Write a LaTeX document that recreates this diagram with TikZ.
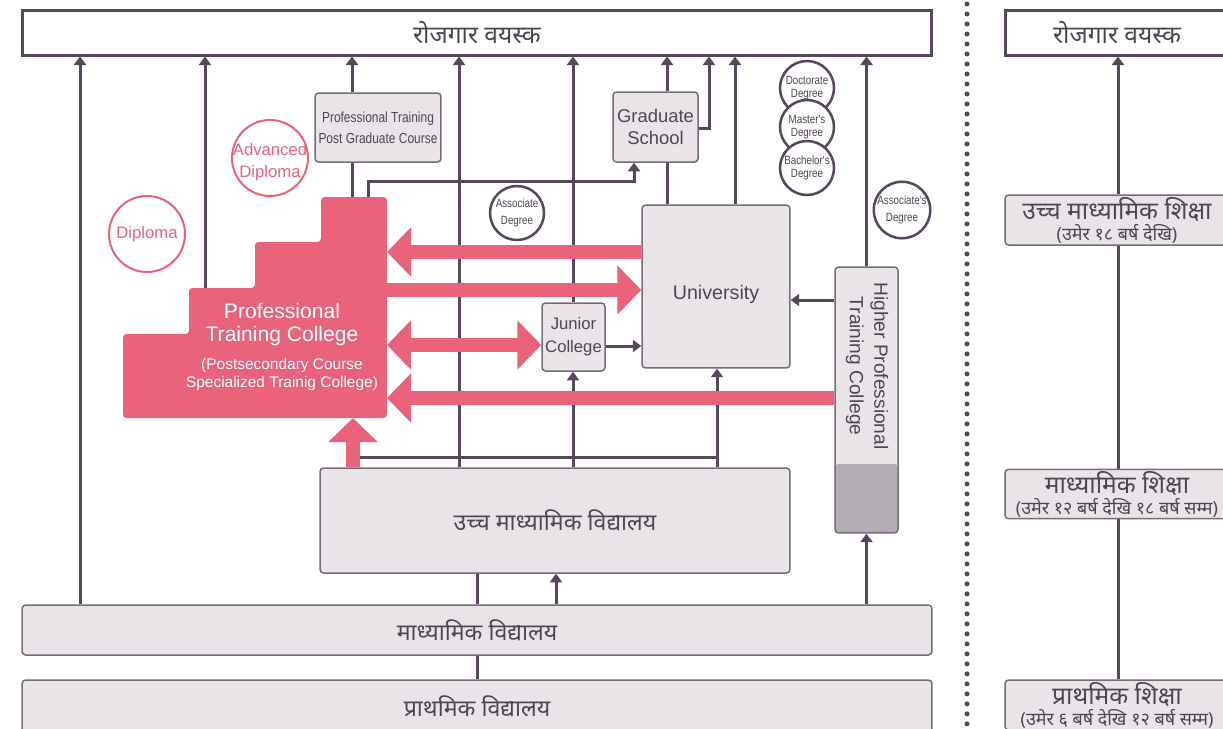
\documentclass[tikz,border=0pt]{standalone}
\usepackage{fontspec}
\setmainfont{Liberation Sans}
\newfontfamily\devafont[Script=Devanagari]{Noto Sans}
\newfontfamily\narrowfont[FakeStretch=0.82]{Liberation Sans}
\usetikzlibrary{arrows.meta}
\definecolor{line-purple}{HTML}{56475B}
\definecolor{box-fill}{HTML}{E8E4E8}
\definecolor{box-border}{HTML}{756C78}
\definecolor{label-gray}{HTML}{4E4552}
\definecolor{ptc-pink}{HTML}{E9637C}
\definecolor{hptc-dark}{HTML}{B5ADB5}
\tikzset{
    job-box/.style = {draw=line-purple, fill=white, line width=0.06cm, rectangle, minimum height=0.9cm, text=label-gray, font=\devafont\fontsize{14}{16}\selectfont},
    gray-box/.style = {draw=box-border, fill=box-fill, line width=0.03cm, rectangle, rounded corners=2pt, text=label-gray, align=center},
    deva-label/.style = {font=\devafont\fontsize{13.2}{15}\selectfont},
    degree-circle/.style = {draw=line-purple, fill=white, circle, line width=0.05cm, minimum size=1.08cm, inner sep=0pt, align=center, text=label-gray, font=\narrowfont\fontsize{6.8}{7.6}\selectfont},
    pink-circle/.style = {draw=ptc-pink, fill=white, circle, line width=0.04cm, minimum size=1.52cm, inner sep=0pt, align=center, text=ptc-pink, font=\fontsize{9.5}{12.5}\selectfont},
    link/.style = {draw=line-purple, line width=0.06cm},
    link-arrow/.style = {link, -{Triangle[width=0.24cm,length=0.17cm]}},
    pink-arrow/.style = {draw=ptc-pink, line width=0.28cm, -{Triangle[width=0.96cm,length=0.48cm]}},
    pink-both/.style = {draw=ptc-pink, line width=0.28cm, {Triangle[width=0.96cm,length=0.48cm]}-{Triangle[width=0.96cm,length=0.48cm]}},
}
\begin{document}
\begin{tikzpicture}[x=0.02cm, y=-0.02cm]
\useasboundingbox (0,0) rectangle (1223,728);
\clip (0,0) rectangle (1223,728);

% left side boxes
\node[job-box, minimum width=18.2cm] (job) at (477,32.5) {रोजगार वयस्क};
\node[gray-box, deva-label, minimum width=18.2cm, minimum height=1.04cm] (prim) at (477,706) {प्राथमिक विद्यालय};
\node[gray-box, deva-label, minimum width=18.2cm, minimum height=1cm] (sec) at (477,630) {माध्यामिक विद्यालय};
\node[gray-box, deva-label, minimum width=9.4cm, minimum height=2.1cm] (hsec) at (555,520.5) {उच्च माध्यामिक विद्यालय};
\node[gray-box, minimum width=2.96cm, minimum height=3.26cm, font=\fontsize{11.2}{13}\selectfont] (univ) at (716,286.5) {\raisebox{-0.25cm}[0pt][0pt]{University}};
\node[gray-box, minimum width=1.26cm, minimum height=1.36cm, inner sep=1pt, font=\fontsize{9.5}{13}\selectfont] (junior) at (573.5,337) {Junior\\College};
\node[gray-box, minimum width=1.7cm, minimum height=1.4cm, inner sep=1pt, font=\fontsize{10.5}{12.5}\selectfont] (grad) at (655.5,127) {Graduate\\School};
\node[gray-box, minimum width=2.52cm, minimum height=1.38cm, inner sep=1pt, font=\narrowfont\fontsize{8.3}{12}\selectfont] (ptpg) at (378,127.5) {Professional Training\\Post Graduate Course};
\node[gray-box, minimum width=1.26cm, minimum height=5.32cm, path picture={\fill[hptc-dark] (path picture bounding box.south west) rectangle ([yshift=1.38cm]path picture bounding box.south east);}] (hptc) at (866.5,400) {};
\node[rotate=-90, align=center, text=label-gray, font=\fontsize{10.9}{14}\selectfont] at (867,366) {Higher Professional\\Training College};

% right side
\node[job-box, minimum width=4.48cm] (job-r) at (1117,32.5) {रोजगार वयस्क};
\node[gray-box, minimum width=4.48cm, minimum height=1cm, inner sep=1pt] (hs-r) at (1117,220) {\devafont\fontsize{14}{12}\selectfont उच्च माध्यामिक शिक्षा\\\devafont\fontsize{10.2}{12}\selectfont (उमेर १८ बर्ष देखि)};
\node[gray-box, minimum width=4.48cm, minimum height=0.96cm, inner sep=1pt] (sec-r) at (1117,494) {\devafont\fontsize{14}{12}\selectfont माध्यामिक शिक्षा\\\devafont\fontsize{10.2}{12}\selectfont (उमेर १२ बर्ष देखि १८ बर्ष सम्म)};
\node[gray-box, minimum width=4.48cm, minimum height=1cm, inner sep=1pt] (prim-r) at (1117,705) {\devafont\fontsize{14}{12}\selectfont प्राथमिक शिक्षा\\\devafont\fontsize{10.2}{12}\selectfont (उमेर ६ बर्ष देखि १२ बर्ष सम्म)};
\draw[link-arrow] (hs-r.north -| 1118,0) -- (job-r.south -| 1118,0);
\draw[link] (sec-r.north -| 1118,0) -- (hs-r.south -| 1118,0);
\draw[link] (prim-r.north -| 1118,0) -- (sec-r.south -| 1118,0);

% dotted separator
\draw[line-purple, line width=0.1cm, line cap=round, dash pattern=on 0pt off 0.2cm] (967,4) -- (967,728);

% coordinates on the training college
\coordinate (ptc-east) at (387,0);
\coordinate (ptc-top) at (0,197);
\coordinate (ptc-step) at (205,288);
\coordinate (bus-l) at (360,457);
\coordinate (bus-r) at (717,457);

% dark connectors
\draw[link-arrow] (sec.north -| 80,0) -- (job.south -| 80,0);
\draw[link-arrow] (ptc-step) -- (job.south -| ptc-step);
\draw[link-arrow] (ptpg.north -| 352,0) -- (job.south -| 352,0);
\draw[link] (ptc-top -| 352,0) -- (ptpg.south -| 352,0);
\draw[link-arrow] (ptc-top -| 368,0) -- (368,181) -| (grad.south -| 634,0);
\draw[link-arrow] (hsec.north -| 459,0) -- (job.south -| 459,0);
\draw[link-arrow] (junior.north -| 573,0) -- (job.south -| 573,0);
\draw[link-arrow] (hsec.north -| 573,0) -- (junior.south -| 573,0);
\draw[link-arrow] (grad.north -| 667,0) -- (job.south -| 667,0);
\draw[link] (univ.north -| 667,0) -- (grad.south -| 667,0);
\draw[link-arrow] (grad.east |- 0,128) -| (job.south -| 709,0);
\draw[link-arrow] (univ.north -| 735,0) -- (job.south -| 735,0);
\draw[link-arrow] (hptc.north) -- (job.south -| hptc.north);
\draw[link-arrow] (junior.east |- 0,346) -- (univ.west |- 0,346);
\draw[link-arrow] (hptc.west |- 0,300) -- (univ.east |- 0,300);
\draw[link-arrow] (hsec.north -| bus-r) -- (univ.south -| bus-r);
\draw[link] (bus-l) -- (bus-r);
\draw[link] (sec.north -| 477,0) -- (hsec.south -| 477,0);
\draw[link-arrow] (sec.north -| 556,0) -- (hsec.south -| 556,0);
\draw[link-arrow] (sec.north -| hptc.south) -- (hptc.south);
\draw[link] (prim.north -| 477,0) -- (sec.south -| 477,0);

% professional training college
\fill[ptc-pink, rounded corners=2pt] (123,418) -- (123,334) -- (189,334) -- (189,288) -- (255,288) -- (255,242) -- (321,242) -- (321,197) -- (387,197) -- (387,418) -- cycle;
\node[align=center, text=white, font=\fontsize{12}{13}\selectfont] (ptc) at (282,347) {Professional\\Training College\\[3.4pt]\fontsize{8.8}{10.2}\selectfont (Postsecondary Course\\[-2.8pt]\fontsize{8.8}{10.2}\selectfont Specialized Trainig College)};

% pink arrows
\draw[pink-arrow] (univ.west |- 0,252) -- (ptc-east |- 0,252);
\draw[pink-arrow] (ptc-east |- 0,290) -- (univ.west |- 0,290);
\draw[pink-both] (ptc-east |- 0,345) -- (junior.west |- 0,345);
\draw[pink-arrow] (hptc.west |- 0,398) -- (ptc-east |- 0,398);
\draw[pink-arrow] (hsec.north -| 353,0) -- (353,418);

% degrees
\node[pink-circle] (diploma) at (147,234) {Diploma};
\node[pink-circle, label={[align=center, text=ptc-pink, font=\fontsize{9.5}{12.5}\selectfont, yshift=-0.09cm]center:Advanced\\Diploma}] (adv-diploma) at (270,158) {};
\node[degree-circle, font=\narrowfont\fontsize{6.8}{9.5}\selectfont] (assoc) at (517,213) {Associate\\Degree};
\node[degree-circle, font=\narrowfont\fontsize{6.8}{9.5}\selectfont] (assoc-r) at (902,210) {Associate's\\Degree};
\node[degree-circle] (doctor) at (807,88) {Doctorate\\Degree};
\node[degree-circle] (master) at (807,127) {Master's\\Degree};
\node[degree-circle] (bachelor) at (807,168) {Bachelor's\\Degree};
\end{tikzpicture}
\end{document}
